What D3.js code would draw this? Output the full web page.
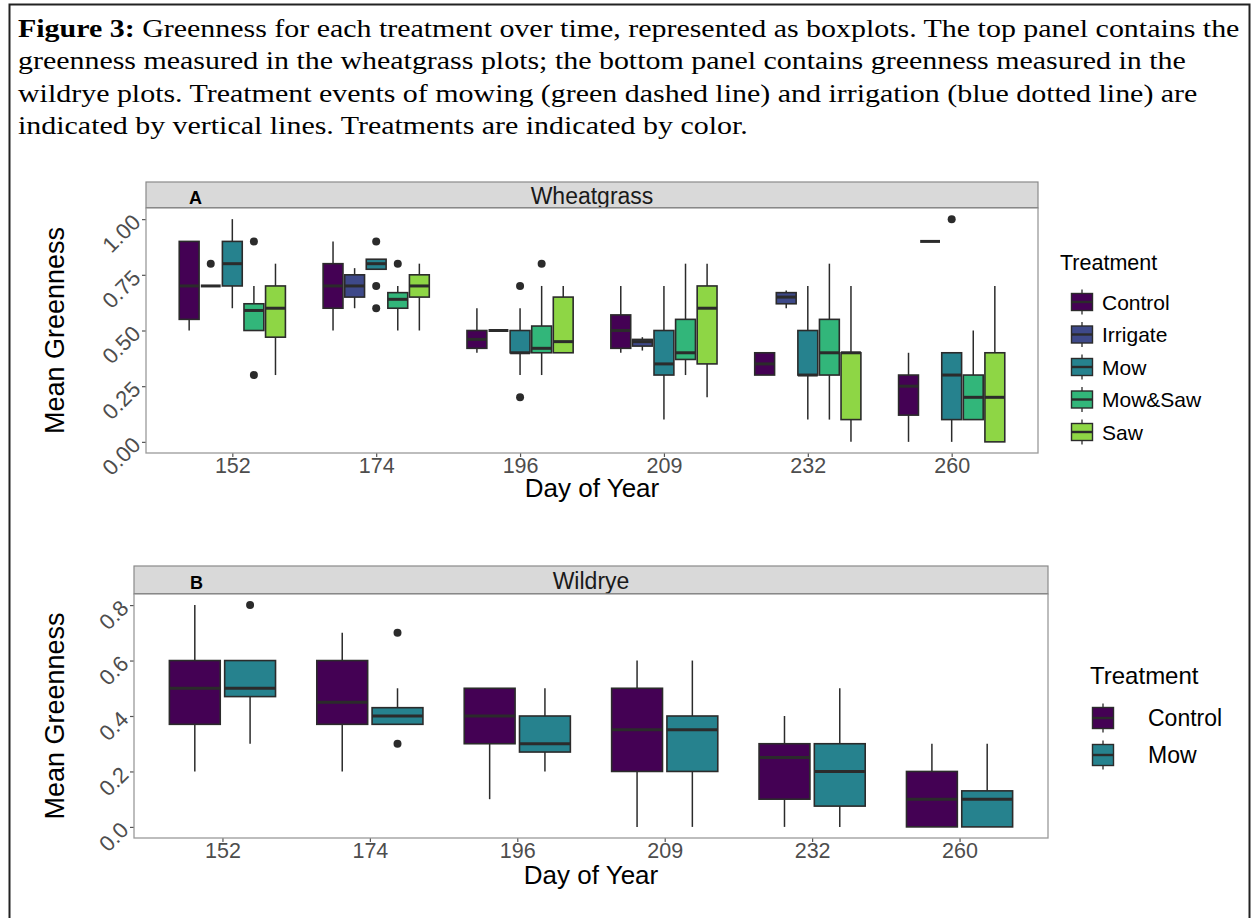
<!DOCTYPE html>
<html><head><meta charset="utf-8">
<script src="https://cdn.jsdelivr.net/npm/d3@7"></script>
<style>body{margin:0;background:#fff;} svg{display:block;}</style>
</head><body>
<svg id="chart" width="1257" height="918"></svg>
<script>
// ---------------- DATA ----------------
const days = ["152", "174", "196", "209", "232", "260"];
const wheatTreatments = ["Control", "Irrigate", "Mow", "Mow&Saw", "Saw"];
const wildTreatments = ["Control", "Mow"];
const yTicksWheat = [0, 0.25, 0.5, 0.75, 1.0];
const yTicksWild = [0, 0.2, 0.4, 0.6, 0.8];

// per day: [lower whisker, Q1, median, Q3, upper whisker]
const wheatControl = [[0.50,0.55,0.70,0.90,0.90],[0.50,0.60,0.70,0.80,0.90],[0.40,0.42,0.46,0.50,0.60],[0.40,0.42,0.50,0.57,0.70],[0.30,0.30,0.35,0.40,0.40],[0.00,0.12,0.25,0.30,0.40]];
const wheatIrrigate = [[0.70,0.70,0.70,0.70,0.70],[0.60,0.65,0.70,0.75,0.78],[0.50,0.50,0.50,0.50,0.50],[0.41,0.43,0.45,0.46,0.47],[0.60,0.62,0.65,0.67,0.68],[0.90,0.90,0.90,0.90,0.90]];
const wheatMow = [[0.60,0.70,0.80,0.90,1.00],[0.775,0.775,0.80,0.82,0.82],[0.30,0.40,0.40,0.50,0.60],[0.10,0.30,0.35,0.50,0.70],[0.10,0.30,0.30,0.50,0.70],[0.00,0.10,0.30,0.40,0.40]];
const wheatMowSaw = [[0.50,0.50,0.59,0.62,0.70],[0.50,0.60,0.64,0.67,0.70],[0.30,0.40,0.42,0.52,0.70],[0.30,0.37,0.40,0.55,0.80],[0.10,0.30,0.40,0.55,0.80],[0.10,0.10,0.20,0.30,0.50]];
const wheatSaw = [[0.30,0.47,0.60,0.70,0.80],[0.50,0.65,0.70,0.75,0.80],[0.40,0.40,0.45,0.65,0.70],[0.20,0.35,0.60,0.70,0.80],[0.00,0.10,0.40,0.40,0.70],[0.00,0.00,0.20,0.40,0.70]];
// outliers per day
const wheatControlOut = [[],[],[],[],[],[]];
const wheatIrrigateOut = [[0.80],[],[],[],[],[]];
const wheatMowOut = [[],[0.90,0.70,0.60],[0.70,0.20],[],[],[1.00]];
const wheatMowSawOut = [[0.90,0.30],[0.80],[0.80],[],[],[]];
const wheatSawOut = [[],[],[],[],[],[]];

const wildControl = [[0.20,0.37,0.50,0.60,0.80],[0.20,0.37,0.45,0.60,0.70],[0.10,0.30,0.40,0.50,0.50],[0.00,0.20,0.35,0.50,0.60],[0.00,0.10,0.25,0.30,0.40],[0.00,0.00,0.10,0.20,0.30]];
const wildMow = [[0.30,0.47,0.50,0.60,0.60],[0.37,0.37,0.40,0.43,0.50],[0.20,0.27,0.30,0.40,0.50],[0.00,0.20,0.35,0.40,0.60],[0.00,0.075,0.20,0.30,0.50],[0.00,0.00,0.10,0.13,0.30]];
const wildControlOut = [[],[],[],[],[],[]];
const wildMowOut = [[0.80],[0.70,0.30],[],[],[],[]];

// ---------------- STYLE ----------------
const colorOf = {
  "Control": d3.interpolateViridis(0.0),
  "Irrigate": d3.interpolateViridis(0.22),
  "Mow": d3.interpolateViridis(0.44),
  "Mow&Saw": d3.interpolateViridis(0.66),
  "Saw": d3.interpolateViridis(0.83)
};
const SANS = "'Liberation Sans', Arial, sans-serif";
const INK = "#2b2b2b";

const svg = d3.select("#chart");
svg.append("rect").attr("width",1257).attr("height",918).attr("fill","#fff");
// outer frame
svg.append("rect").attr("x",9.5).attr("y",4.5).attr("width",1240).attr("height",940)
  .attr("fill","none").attr("stroke","#222").attr("stroke-width",2);

// caption
const capLines = [
  [["Figure 3:", true], [" Greenness for each treatment over time, represented as boxplots. The top panel contains the", false]],
  [["greenness measured in the wheatgrass plots; the bottom panel contains greenness measured in the", false]],
  [["wildrye plots. Treatment events of mowing (green dashed line) and irrigation (blue dotted line) are", false]],
  [["indicated by vertical lines. Treatments are indicated by color.", false]]
];
const capG = svg.append("g");
const capTexts = capLines.map((line, i) => {
  const t = capG.append("text").attr("x", 0).attr("y", 37 + i * 32.3)
    .attr("font-family", "'Liberation Serif', 'Times New Roman', serif")
    .attr("font-size", 25.5).attr("fill", "#000");
  line.forEach(([s, b]) => t.append("tspan").attr("font-weight", b ? "bold" : "normal").text(s));
  return t;
});
const w0 = capTexts[0].node().getComputedTextLength();
const sx = 1222 / w0;
capG.attr("transform", `translate(18,0) scale(${sx},1)`);

function drawPanel(cfg) {
  const g = svg.append("g");
  const x = d3.scalePoint().domain(days).range([cfg.left, cfg.right]).padding(0.6);
  const step = x.step();
  const y = d3.scaleLinear().domain(cfg.yDomain).range([cfg.bottom, cfg.top]);
  const n = cfg.treatments.length;
  const slot = 0.75 * step / n;
  const bw = slot * 0.92;

  // strip
  g.append("rect").attr("x", cfg.left).attr("y", cfg.stripTop)
    .attr("width", cfg.right - cfg.left).attr("height", cfg.top - cfg.stripTop)
    .attr("fill", "#d9d9d9").attr("stroke", "#8a8a8a").attr("stroke-width", 1.2);
  g.append("line").attr("x1", cfg.left).attr("x2", cfg.right).attr("y1", cfg.top).attr("y2", cfg.top)
    .attr("stroke", "#666").attr("stroke-width", 2);
  g.append("text").attr("x", (cfg.left + cfg.right) / 2).attr("y", (cfg.stripTop + cfg.top) / 2 + 9)
    .attr("text-anchor", "middle").attr("font-family", SANS).attr("font-size", 23)
    .attr("fill", "#1a1a1a").text(cfg.title);
  g.append("text").attr("x", cfg.letterX).attr("y", (cfg.stripTop + cfg.top) / 2 + 9)
    .attr("font-family", SANS).attr("font-size", 18).attr("font-weight", "bold")
    .attr("fill", "#000").text(cfg.letter);

  // panel
  g.append("rect").attr("x", cfg.left).attr("y", cfg.top)
    .attr("width", cfg.right - cfg.left).attr("height", cfg.bottom - cfg.top)
    .attr("fill", "#fff");

  // boxes
  cfg.treatments.forEach((tr, ti) => {
    const stats = cfg.stats[ti], outs = cfg.outliers[ti];
    days.forEach((d, di) => {
      const s = stats[di];
      const cx = x(d) + (ti - (n - 1) / 2) * slot;
      const bg = g.append("g");
      bg.append("line").attr("x1", cx).attr("x2", cx).attr("y1", y(s[0])).attr("y2", y(s[1]))
        .attr("stroke", INK).attr("stroke-width", 1.5);
      bg.append("line").attr("x1", cx).attr("x2", cx).attr("y1", y(s[3])).attr("y2", y(s[4]))
        .attr("stroke", INK).attr("stroke-width", 1.5);
      bg.append("rect").attr("x", cx - bw / 2).attr("y", y(s[3]))
        .attr("width", bw).attr("height", Math.max(0, y(s[1]) - y(s[3])))
        .attr("fill", colorOf[tr]).attr("stroke", INK).attr("stroke-width", 1.6);
      bg.append("line").attr("x1", cx - bw / 2).attr("x2", cx + bw / 2).attr("y1", y(s[2])).attr("y2", y(s[2]))
        .attr("stroke", INK).attr("stroke-width", 3);
      outs[di].forEach(o => {
        bg.append("circle").attr("cx", cx).attr("cy", y(o)).attr("r", 4).attr("fill", INK);
      });
    });
  });

  // axes
  const ax = g.append("g").attr("transform", `translate(${cfg.left},0)`)
    .call(d3.axisLeft(y).tickValues(cfg.yTicks).tickFormat(cfg.yFmt).tickSize(4).tickPadding(4));
  ax.select(".domain").remove();
  ax.selectAll(".tick line").attr("stroke", "#555").attr("stroke-width", 1.2);
  ax.selectAll(".tick text").attr("font-family", SANS).attr("font-size", 22).attr("fill", "#4d4d4d")
    .attr("x", -9).attr("dy", "0.35em").attr("text-anchor", "end")
    .attr("transform", "rotate(-45,-11,0)");
  const bx = g.append("g").attr("transform", `translate(0,${cfg.bottom})`)
    .call(d3.axisBottom(x).tickSize(4).tickPadding(1));
  bx.select(".domain").remove();
  bx.selectAll(".tick line").attr("stroke", "#555").attr("stroke-width", 1.2);
  bx.selectAll(".tick text").attr("font-family", SANS).attr("font-size", 21.5).attr("fill", "#4d4d4d");
  // panel border on top
  g.append("rect").attr("x", cfg.left).attr("y", cfg.top)
    .attr("width", cfg.right - cfg.left).attr("height", cfg.bottom - cfg.top)
    .attr("fill", "none").attr("stroke", "#9a9a9a").attr("stroke-width", 1.3);

  // axis titles
  g.append("text").attr("transform", `translate(${cfg.yTitleX},${(cfg.top + cfg.bottom) / 2}) rotate(-90)`)
    .attr("text-anchor", "middle").attr("font-family", SANS).attr("font-size", 27).attr("fill", "#000")
    .text("Mean Greenness");
  g.append("text").attr("x", (cfg.left + cfg.right) / 2).attr("y", cfg.xTitleY)
    .attr("text-anchor", "middle").attr("font-family", SANS).attr("font-size", 26).attr("fill", "#000")
    .text("Day of Year");

  // legend
  const L = cfg.legend;
  g.append("text").attr("x", L.x).attr("y", L.titleY + 8).attr("font-family", SANS)
    .attr("font-size", L.titleSize).attr("fill", "#000").text("Treatment");
  cfg.treatments.forEach((tr, i) => {
    const cy = L.firstY + i * L.gap;
    const kx = L.keyX;
    g.append("line").attr("x1", kx).attr("x2", kx).attr("y1", cy - L.kh / 2 - 4).attr("y2", cy + L.kh / 2 + 4)
      .attr("stroke", INK).attr("stroke-width", 1.3);
    g.append("rect").attr("x", kx - L.kw / 2).attr("y", cy - L.kh / 2).attr("width", L.kw).attr("height", L.kh)
      .attr("fill", colorOf[tr]).attr("stroke", INK).attr("stroke-width", 1.4);
    g.append("line").attr("x1", kx - L.kw / 2).attr("x2", kx + L.kw / 2).attr("y1", cy).attr("y2", cy)
      .attr("stroke", INK).attr("stroke-width", 2.4);
    g.append("text").attr("x", L.labelX).attr("y", cy + 7.5).attr("font-family", SANS)
      .attr("font-size", L.labelSize).attr("fill", "#000").text(tr);
  });
}

drawPanel({
  left: 146, right: 1038, stripTop: 182, top: 208, bottom: 453,
  yDomain: [-0.05, 1.05], yTicks: yTicksWheat, yFmt: d3.format(".2f"),
  treatments: wheatTreatments,
  stats: [wheatControl, wheatIrrigate, wheatMow, wheatMowSaw, wheatSaw],
  outliers: [wheatControlOut, wheatIrrigateOut, wheatMowOut, wheatMowSawOut, wheatSawOut],
  letter: "A", letterX: 189, title: "Wheatgrass", yTitleX: 64, xTitleY: 497,
  legend: { x: 1060, titleY: 262, firstY: 302, gap: 32.5, keyX: 1082, kw: 21, kh: 17, labelX: 1102, titleSize: 21.5, labelSize: 21 }
});

drawPanel({
  left: 134, right: 1048, stripTop: 566, top: 594, bottom: 838,
  yDomain: [-0.04, 0.84], yTicks: yTicksWild, yFmt: d3.format(".1f"),
  treatments: wildTreatments,
  stats: [wildControl, wildMow],
  outliers: [wildControlOut, wildMowOut],
  letter: "B", letterX: 190, title: "Wildrye", yTitleX: 64, xTitleY: 884,
  legend: { x: 1090, titleY: 676, firstY: 718, gap: 37, keyX: 1103, kw: 21, kh: 21, labelX: 1148, titleSize: 24, labelSize: 23 }
});
</script>
</body></html>
